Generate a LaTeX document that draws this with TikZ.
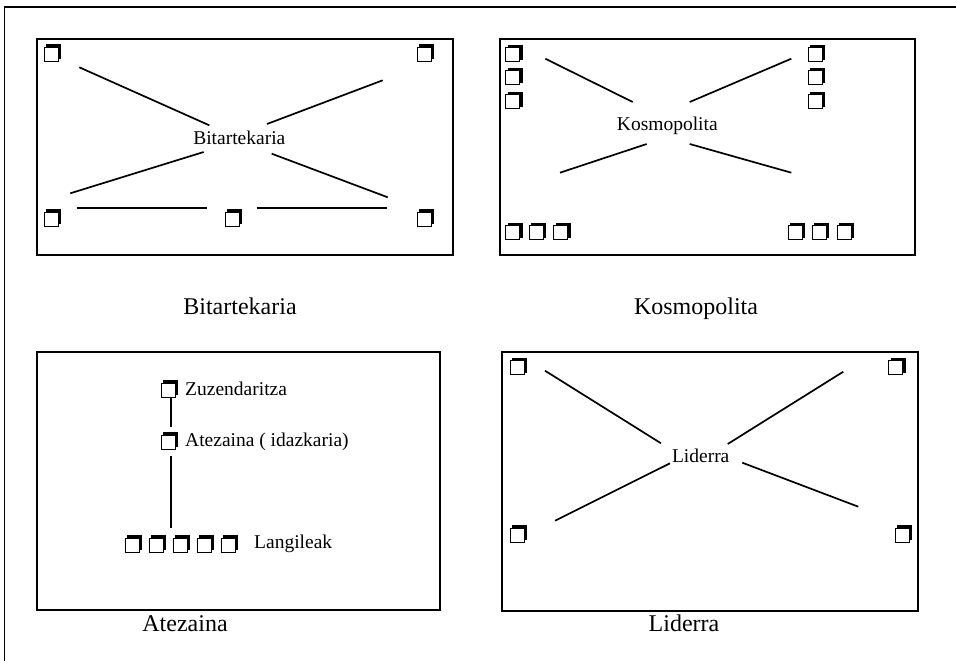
\documentclass[tikz,border=0pt]{standalone}
\usepackage{fontspec}
\setmainfont{Liberation Serif}
\usetikzlibrary{shadows}
\begin{document}
\begin{tikzpicture}[x=1pt,y=-1pt,
  panel/.style={draw, line width=1.5pt},
  glyph/.style={draw, fill=white, line width=0.8pt, minimum size=14pt, inner sep=0pt,
    copy shadow={shadow xshift=2.2pt, shadow yshift=2.2pt, fill=black, draw=black}},
  link/.style={line width=1.7pt},
  inlabel/.style={inner sep=0pt, anchor=base, font=\fontsize{19.5}{22}\selectfont},
  sidelabel/.style={inner sep=0pt, anchor=base west, font=\fontsize{19.5}{22}\selectfont},
  caption/.style={inner sep=0pt, anchor=base, font=\fontsize{24}{28}\selectfont}]
\useasboundingbox (0,0) rectangle (956,661);

% outer frame (top and left edges only)
\draw[line width=1.3pt] (956,7) -- (4.5,7) -- (4.5,661);

% ---------- Bitartekaria ----------
\draw[panel] (37,39) rectangle (453,255);
\node[glyph] (bA) at (51,54) {};
\node[glyph] (bB) at (424.5,54) {};
\node[glyph] (bC) at (51,219) {};
\node[glyph] (bD) at (232,219) {};
\node[glyph] (bE) at (424.5,219) {};
\node[inlabel] (bL) at (239.3,144.7) {Bitartekaria};
\coordinate (b1s) at (79.3,67.3);  \coordinate (b1e) at (209.3,125.3);
\coordinate (b2s) at (267,124);    \coordinate (b2e) at (382.7,80.3);
\coordinate (b3s) at (70.3,193.3); \coordinate (b3e) at (203.7,152);
\coordinate (b4s) at (271.7,153.7);\coordinate (b4e) at (387.7,197.3);
\coordinate (b5s) at (76.7,208);   \coordinate (b5e) at (207,208);
\coordinate (b6s) at (256.7,208);  \coordinate (b6e) at (387,208);
\foreach \i in {1,...,6} \draw[link] (b\i s) -- (b\i e);
\node[caption] (bCap) at (240,314) {Bitartekaria};

% ---------- Kosmopolita ----------
\draw[panel] (500,39) rectangle (915,255);
\foreach \n/\y in {1/53.3,2/76.8,3/100.5} {
  \node[glyph] (kl\n) at (512.7,\y+1) {};
  \node[glyph] (kr\n) at (815,\y+1) {};
}
\foreach \n/\x in {1/513.7,2/537.2,3/561.8} \node[glyph] (kbl\n) at (\x-1,232.3) {};
\foreach \n/\x in {1/796.3,2/820.5,3/845.2} \node[glyph] (kbr\n) at (\x-1,232.3) {};
\node[inlabel] (kL) at (667.3,130.3) {Kosmopolita};
\coordinate (k1s) at (545.3,58.7); \coordinate (k1e) at (632.7,102);
\coordinate (k2s) at (689.7,102);  \coordinate (k2e) at (791.3,58.7);
\coordinate (k3s) at (560,172.7);  \coordinate (k3e) at (646.7,144);
\coordinate (k4s) at (689.7,144);  \coordinate (k4e) at (791.3,172.7);
\foreach \i in {1,...,4} \draw[link] (k\i s) -- (k\i e);
\node[caption] (kCap) at (696,314) {Kosmopolita};

% ---------- Atezaina ----------
\draw[panel] (37,352) rectangle (440,610);
\node[glyph] (aZ) at (168,390) {};
\node[sidelabel] (aZt) at (185,395) {Zuzendaritza};
\node[glyph] (aA) at (168,442) {};
\node[sidelabel] (aAt) at (185,446) {Atezaina ( idazkaria)};
\foreach \n/\x in {1/133,2/157,3/181,4/205,5/229} \node[glyph] (aw\n) at (\x-1,545) {};
\node[sidelabel] (aWt) at (254,548.3) {Langileak};
\draw[link, line width=1.2pt] (171,398) -- (171,427);
\draw[link, line width=1.2pt] (171,456) -- (171,528);
\node[caption] (aCap) at (185,631.7) {Atezaina};

% ---------- Liderra ----------
\draw[panel] (502,352) rectangle (918,611);
\node[glyph] (lA) at (517.3,367.7) {};
\node[glyph] (lB) at (895.7,367.7) {};
\node[glyph] (lC) at (517.3,535) {};
\node[glyph] (lD) at (902,535) {};
\node[inlabel] (lL) at (700.7,462.3) {Liderra};
\coordinate (l1s) at (545,370.7);  \coordinate (l1e) at (661,443.3);
\coordinate (l2s) at (727.7,444);  \coordinate (l2e) at (843.3,371.7);
\coordinate (l3s) at (555,520.7);  \coordinate (l3e) at (670,463.3);
\coordinate (l4s) at (742.3,462.7);\coordinate (l4e) at (858.3,506.7);
\foreach \i in {1,...,4} \draw[link] (l\i s) -- (l\i e);
\node[caption] (lCap) at (684,631.7) {Liderra};
\end{tikzpicture}
\end{document}
